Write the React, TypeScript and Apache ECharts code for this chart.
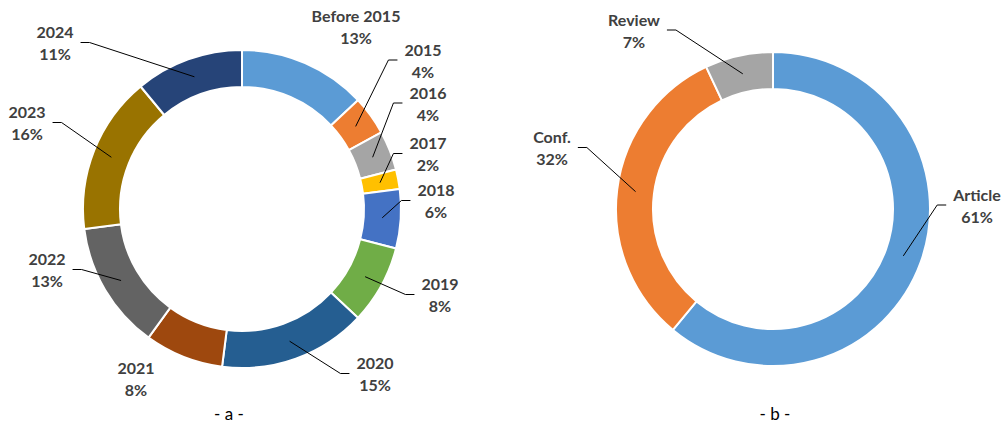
import React, { useEffect, useRef } from 'react';
import * as echarts from 'echarts';

// ---- data ----
const yearCategories = ['Before 2015', '2015', '2016', '2017', '2018', '2019', '2020', '2021', '2022', '2023', '2024'];
const yearValues = [13, 4, 4, 2, 6, 8, 15, 8, 13, 16, 11];
const typeCategories = ['Article', 'Conf.', 'Review'];
const typeValues = [61, 32, 7];

// ---- styles / layout ----
const yearColors = ['#5B9BD5', '#ED7D31', '#A5A5A5', '#FFC000', '#4472C4', '#70AD47', '#255E91', '#9E480E', '#636363', '#997300', '#264478'];
const typeColors = ['#5B9BD5', '#ED7D31', '#A5A5A5'];
const yearLabelPos = [[356, 26], [423, 60], [428, 103], [428, 153.5], [436, 200.5], [440, 294.5], [375, 373.5], [136, 378.5], [47, 269.5], [27, 122.5], [55, 42.5]];
const yearLeader = [false, true, true, true, true, true, true, false, true, true, true];
const typeLabelPos = [[977, 205], [552, 147.5], [634, 30]];
const typeLeader = [true, true, true];

const leftCenter = [242, 209];
const leftRadius = [122, 159];
const rightCenter = [773, 209];
const rightRadius = [120, 157];

function makeLayout(center: number[], radius: number[], values: number[], positions: number[][], leaders: boolean[]) {
  const total = values.reduce((a, b) => a + b, 0);
  const mids: number[] = [];
  let cum = 0;
  values.forEach((v) => {
    mids.push(((cum + v / 2) / total) * 2 * Math.PI);
    cum += v;
  });
  return (params: any) => {
    const i = params.dataIndex;
    const [lx, ly] = positions[i];
    const res: any = { x: lx, y: ly, align: 'center', verticalAlign: 'middle' };
    if (leaders[i]) {
      const a = mids[i];
      const rm = (radius[0] + radius[1]) / 2;
      const sx = center[0] + rm * Math.sin(a);
      const sy = center[1] - rm * Math.cos(a);
      const w = params.labelRect.width;
      const dir = lx > center[0] ? -1 : 1;
      const edge = lx + (dir * w) / 2;
      const end = edge + dir * 7;
      const bend = end + dir * 9;
      res.labelLinePoints = [[sx, sy], [bend, ly], [end, ly]];
    }
    return res;
  };
}

function makeSeries(
  names: string[], values: number[], colors: string[], center: number[], radius: number[],
  positions: number[][], leaders: boolean[]
) {
  const base = {
    type: 'pie',
    center,
    radius,
    startAngle: 90,
    clockwise: true,
    avoidLabelOverlap: false,
    silent: true,
    emphasis: { disabled: true },
  };
  const rings = {
    ...base,
    z: 2,
    itemStyle: { borderColor: '#ffffff', borderWidth: 2 },
    label: { show: false },
    labelLine: { show: false },
    data: names.map((n, i) => ({ name: n, value: values[i], itemStyle: { color: colors[i] } })),
  };
  const labels = {
    ...base,
    z: 5,
    itemStyle: { color: 'rgba(0,0,0,0)', borderWidth: 0 },
    label: {
      show: true,
      position: 'outside',
      formatter: (p: any) => `${p.name}\n${Math.round(p.percent)}%`,
      fontFamily: 'Lato',
      fontWeight: 'bold',
      fontSize: 16,
      lineHeight: 22,
      color: '#404040',
      align: 'center',
    },
    labelLine: { show: true, showAbove: true, length: 10, length2: 10, smooth: false, lineStyle: { color: '#000000', width: 1 } },
    labelLayout: makeLayout(center, radius, values, positions, leaders),
    data: names.map((n, i) => ({
      name: n,
      value: values[i],
      labelLine: { show: leaders[i] },
    })),
  };
  return [rings, labels];
}

export default function App() {
  const ref = useRef<HTMLDivElement>(null);
  useEffect(() => {
    if (!ref.current) return;
    const chart = echarts.init(ref.current, null, { renderer: 'svg' });
    chart.setOption({
      animation: false,
      backgroundColor: '#ffffff',
      series: [
        ...makeSeries(yearCategories, yearValues, yearColors, leftCenter, leftRadius, yearLabelPos, yearLeader),
        ...makeSeries(typeCategories, typeValues, typeColors, rightCenter, rightRadius, typeLabelPos, typeLeader),
      ],
      graphic: [
        { type: 'text', x: 229, y: 413, style: { text: '- a -', fontFamily: 'Lato', fontSize: 17, fill: '#000000', align: 'center', verticalAlign: 'middle' } },
        { type: 'text', x: 775, y: 413, style: { text: '- b -', fontFamily: 'Lato', fontSize: 17, fill: '#000000', align: 'center', verticalAlign: 'middle' } },
      ],
    } as any);
    return () => chart.dispose();
  }, []);
  return <div ref={ref} style={{ position: 'fixed', left: 0, top: 0, width: 1004, height: 427 }} />;
}
